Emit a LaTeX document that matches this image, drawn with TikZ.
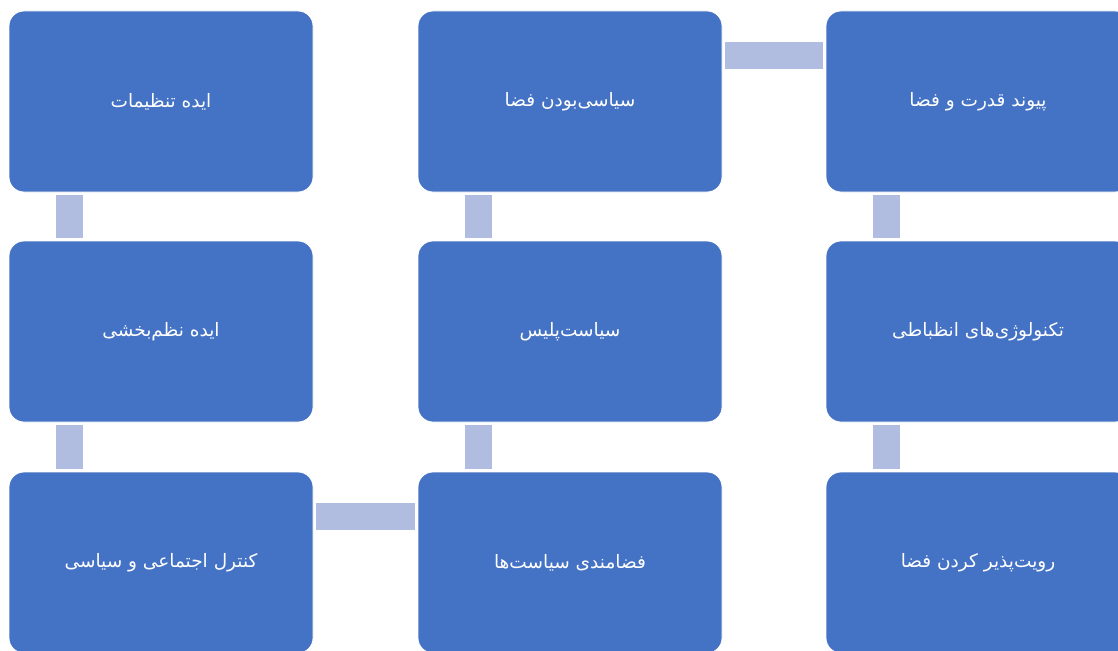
\documentclass[tikz,border=0pt]{standalone}
\usepackage{fontspec}
\newfontfamily\arabicfont[Script=Arabic]{DejaVu Sans}
\TeXXeTstate=1
\definecolor{boxblue}{HTML}{4472C4}
\definecolor{barblue}{HTML}{B0BCE0}
\begin{document}
\begin{tikzpicture}[x=1pt,y=-1pt,
  box/.style={draw=white, line width=0.8pt, fill=boxblue, rounded corners=15pt,
    minimum width=304pt, minimum height=181pt, inner sep=0pt,
    text=white, font=\arabicfont\fontsize{18.5}{22}\selectfont},
  bar/.style={draw=barblue, line width=27pt, line cap=butt}]
\useasboundingbox (0,0) rectangle (1118,650);
\clip (0,0) rectangle (1118,650);
\node[box] (r1c1) at (161,101.5) {\beginR ایده تنظیمات\endR};
\node[box] (r1c2) at (570,101.5) {\beginR سیاسی‌بودن فضا\endR};
\node[box] (r1c3) at (978,101.5) {\beginR پیوند قدرت و فضا\endR};
\node[box] (r2c1) at (161,331.5) {\beginR ایده نظم‌بخشی\endR};
\node[box] (r2c2) at (570,331.5) {\beginR سیاست‌پلیس\endR};
\node[box] (r2c3) at (978,331.5) {\beginR تکنولوژی‌های انظباطی\endR};
\node[box] (r3c1) at (161,562.5) {\beginR کنترل اجتماعی و سیاسی\endR};
\node[box] (r3c2) at (570,562.5) {\beginR فضامندی سیاست‌ها\endR};
\node[box] (r3c3) at (978,562.5) {\beginR رویت‌پذیر کردن فضا\endR};
% vertical connectors
\draw[bar] ([xshift=60.5pt,yshift=-3pt]r1c1.south west) -- ([xshift=60.5pt,yshift=3pt]r2c1.north west);
\draw[bar] ([xshift=60.5pt,yshift=-3pt]r2c1.south west) -- ([xshift=60.5pt,yshift=3pt]r3c1.north west);
\draw[bar] ([xshift=60.5pt,yshift=-3pt]r1c2.south west) -- ([xshift=60.5pt,yshift=3pt]r2c2.north west);
\draw[bar] ([xshift=60.5pt,yshift=-3pt]r2c2.south west) -- ([xshift=60.5pt,yshift=3pt]r3c2.north west);
\draw[bar] ([xshift=60.5pt,yshift=-3pt]r1c3.south west) -- ([xshift=60.5pt,yshift=3pt]r2c3.north west);
\draw[bar] ([xshift=60.5pt,yshift=-3pt]r2c3.south west) -- ([xshift=60.5pt,yshift=3pt]r3c3.north west);
% horizontal connectors
\draw[bar] ([xshift=3pt,yshift=-44.5pt]r1c2.north east) -- ([xshift=-3pt,yshift=-44.5pt]r1c3.north west);
\draw[bar] ([xshift=3pt,yshift=-44.5pt]r3c1.north east) -- ([xshift=-3pt,yshift=-44.5pt]r3c2.north west);
\end{tikzpicture}
\end{document}
